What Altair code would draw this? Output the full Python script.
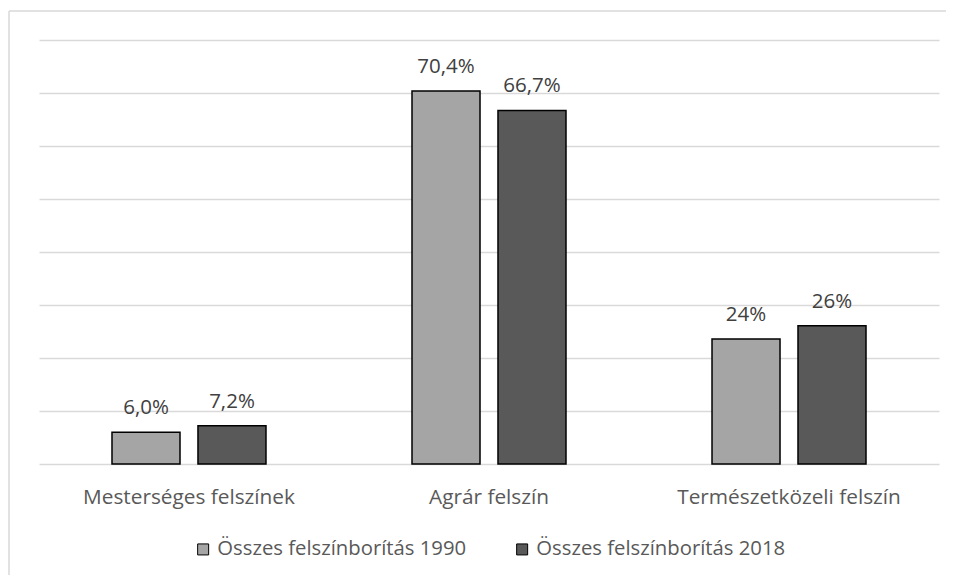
import altair as alt
import pandas as pd

categories = ["Mesterséges felszínek", "Agrár felszín", "Természetközeli felszín"]
series = ["Összes felszínborítás 1990", "Összes felszínborítás 2018"]
values_1990 = [6.0, 70.4, 23.6]
values_2018 = [7.2, 66.7, 26.1]
labels_1990 = ["6,0%", "70,4%", "24%"]
labels_2018 = ["7,2%", "66,7%", "26%"]
grid_values = [0, 10, 20, 30, 40, 50, 60, 70, 80]
colors = ["#a5a5a5", "#595959"]

rows = []
for i, c in enumerate(categories):
    rows.append({"cat": c, "series": series[0], "value": values_1990[i], "label": labels_1990[i]})
    rows.append({"cat": c, "series": series[1], "value": values_2018[i], "label": labels_2018[i]})
df = pd.DataFrame(rows)

FONT = "Open Sans"

x = alt.X(
    "cat:N", sort=categories, title=None,
    scale=alt.Scale(paddingInner=0.4867, paddingOuter=0.2433),
    axis=alt.Axis(labelAngle=0, ticks=False, domain=False, grid=False,
                  labelFont=FONT, labelFontSize=20.8, labelColor="#595959",
                  labelPadding=23, labelLimit=0),
)
xo = alt.XOffset("series:N", sort=series, scale=alt.Scale(paddingInner=0.209, paddingOuter=0))
y = alt.Y(
    "value:Q", title=None,
    scale=alt.Scale(domain=[0, 80], nice=False),
    axis=alt.Axis(values=grid_values, labels=False, ticks=False, domain=False,
                  grid=True, gridColor="#d9d9d9", gridWidth=1.3),
)

bars = alt.Chart(df).mark_bar(stroke="black", strokeWidth=1.5).encode(
    x=x, xOffset=xo, y=y,
    color=alt.Color(
        "series:N", sort=series,
        scale=alt.Scale(domain=series, range=colors),
        legend=alt.Legend(
            orient="none", legendX=154, legendY=499, direction="horizontal",
            title=None, symbolType="square", symbolSize=121,
            symbolStrokeColor="black", symbolStrokeWidth=1,
            labelFont=FONT, labelFontSize=20.3, labelColor="#595959",
            columnPadding=45, labelOffset=4, padding=0, labelLimit=0,
        ),
    ),
)

text = alt.Chart(df).mark_text(
    dy=-18, baseline="alphabetic", font=FONT, fontSize=20.5, color="#404040"
).encode(x=x, xOffset=xo, y=y, text="label:N")

frame_df = pd.DataFrame({"a": [0]})
frame_v = alt.Chart(frame_df).mark_rule(color="#d9d9d9", strokeWidth=1.5).encode(
    x=alt.value(-30), y=alt.value(-29), y2=alt.value(540)
)
frame_h = alt.Chart(frame_df).mark_rule(color="#d9d9d9", strokeWidth=1.5).encode(
    x=alt.value(-30), x2=alt.value(910), y=alt.value(-29)
)

chart = alt.layer(frame_v, frame_h, bars, text).properties(
    width=900, height=424,
    background="white",
    autosize=alt.AutoSizeParams(type="none"),
    padding={"left": 31, "top": 32, "right": 7, "bottom": 111},
).configure_view(stroke=None)

chart.save("out.html", embed_options={"renderer": "svg", "actions": False})
